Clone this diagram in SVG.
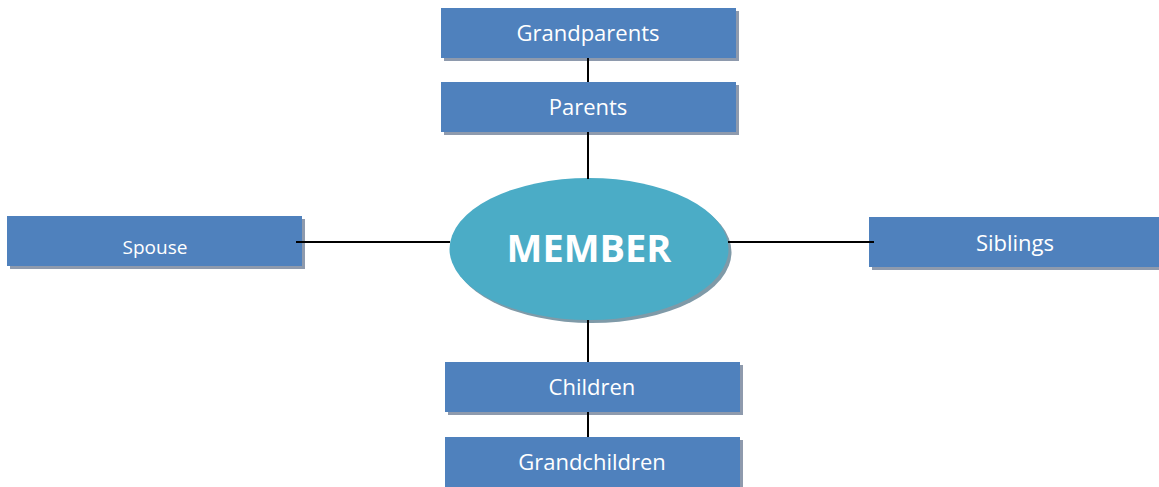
<svg xmlns="http://www.w3.org/2000/svg" width="1159" height="487" viewBox="0 0 1159 487">
<style>
.box{fill:#4f81bd}
.sh{fill:#8e9aad}
.t{fill:#fff;font-family:"Open Sans","Liberation Sans",sans-serif;font-size:22px;text-anchor:middle}
.c{stroke:#000;stroke-width:2;fill:none}
</style>
<rect width="1159" height="487" fill="#fff"/>
<g id="grandparents">
<rect class="sh" x="444" y="11" width="295" height="50"/>
<rect class="box" x="441" y="8" width="295" height="50"/>
<text class="t" x="588" y="41">Grandparents</text>
</g>
<g id="parents">
<rect class="sh" x="444" y="85" width="295" height="50"/>
<rect class="box" x="441" y="82" width="295" height="50"/>
<text class="t" x="588" y="115">Parents</text>
</g>
<g id="spouse">
<rect class="sh" x="10" y="219" width="295" height="50"/>
<rect class="box" x="7" y="216" width="295" height="50"/>
<text class="t" x="155" y="254" style="font-size:19px">Spouse</text>
</g>
<g id="member">
<ellipse cx="592" cy="252" rx="139.5" ry="71" fill="#7f9aa8"/>
<ellipse cx="589" cy="249" rx="139.5" ry="71" fill="#4bacc6"/>
<text class="t" x="589" y="262" style="font-size:38px;font-weight:bold">MEMBER</text>
</g>
<g id="siblings">
<rect class="sh" x="872" y="220" width="290" height="50"/>
<rect class="box" x="869" y="217" width="290" height="50"/>
<text class="t" x="1015" y="251">Siblings</text>
</g>
<g id="children">
<rect class="sh" x="448" y="365" width="295" height="50"/>
<rect class="box" x="445" y="362" width="295" height="50"/>
<text class="t" x="592" y="395">Children</text>
</g>
<g id="grandchildren">
<rect class="sh" x="448" y="440" width="295" height="50"/>
<rect class="box" x="445" y="437" width="295" height="50"/>
<text class="t" x="592" y="470">Grandchildren</text>
</g>
<g id="connectors">
<line class="c" x1="588" y1="58" x2="588" y2="82"/>
<line class="c" x1="588" y1="132" x2="588" y2="179"/>
<line class="c" x1="588" y1="320" x2="588" y2="362"/>
<line class="c" x1="588" y1="412" x2="588" y2="437"/>
<line class="c" x1="296" y1="242" x2="450" y2="242"/>
<line class="c" x1="728" y1="242" x2="874" y2="242"/>
</g>
</svg>
